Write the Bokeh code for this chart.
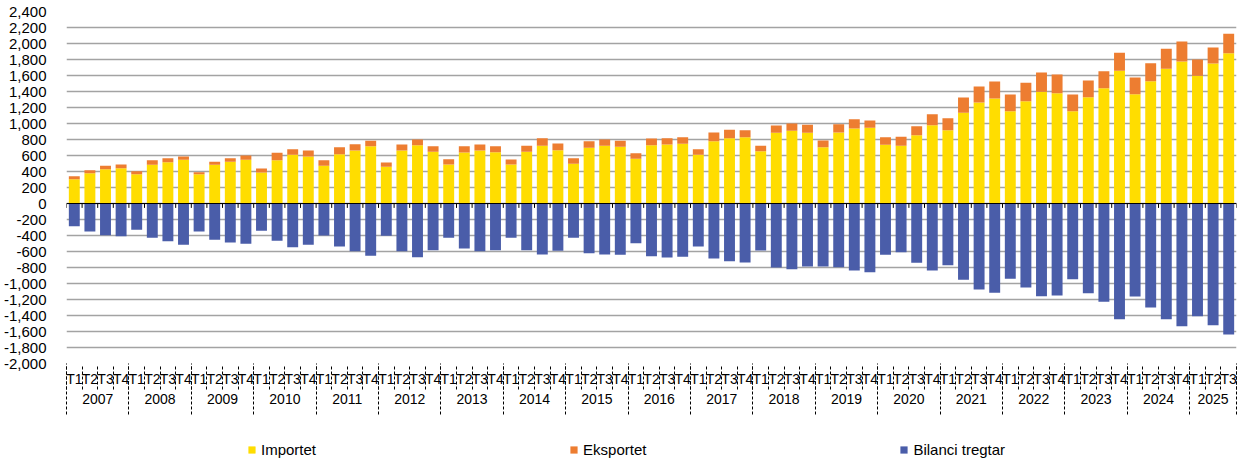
from bokeh.plotting import figure
from bokeh.layouts import column
from bokeh.models import (FixedTicker, LinearAxis, NumeralTickFormatter, Legend,
                          LegendItem, Span, Range1d, ColumnDataSource)
from bokeh.embed import file_html
from bokeh.resources import INLINE

years = ["2007", "2008", "2009", "2010", "2011", "2012", "2013", "2014", "2015",
         "2016", "2017", "2018", "2019", "2020", "2021", "2022", "2023", "2024", "2025"]
quarters = ["T1", "T2", "T3", "T4"]

importet = [304, 379, 429, 442, 367, 483, 517, 546, 367, 483, 521, 546,
            388, 542, 608, 588, 471, 617, 663, 717, 458, 663, 729, 646,
            488, 638, 663, 642, 488, 646, 721, 667, 496, 696, 721, 708,
            558, 729, 738, 746, 608, 779, 817, 829, 654, 883, 908, 883,
            704, 888, 938, 946, 733, 721, 854, 979, 917, 1133, 1263, 1313,
            1154, 1279, 1396, 1379, 1154, 1329, 1442, 1658, 1367, 1529, 1683, 1775,
            1596, 1750, 1879]
eksportet = [38, 38, 42, 46, 37, 59, 50, 42, 25, 38, 46, 54,
             50, 91, 71, 75, 71, 87, 79, 66, 55, 75, 71, 71,
             66, 79, 75, 75, 62, 75, 96, 83, 71, 83, 79, 75,
             71, 84, 79, 83, 71, 109, 104, 88, 67, 92, 92, 100,
             84, 104, 116, 92, 96, 112, 113, 138, 150, 192, 200, 212,
             209, 229, 242, 234, 209, 209, 212, 225, 208, 225, 250, 250,
             204, 200, 242]
bilanci = [-283, -350, -396, -408, -329, -429, -471, -517, -350, -454, -488, -504,
           -342, -467, -546, -517, -400, -538, -596, -654, -404, -598, -671, -583,
           -429, -563, -596, -583, -429, -583, -638, -592, -429, -621, -638, -642,
           -496, -658, -675, -667, -538, -688, -721, -738, -588, -800, -821, -788,
           -788, -796, -838, -858, -642, -608, -742, -838, -771, -954, -1075, -1117,
           -942, -1050, -1158, -1150, -946, -1121, -1229, -1446, -1163, -1300, -1446, -1533,
           -1408, -1521, -1638]
series_names = ["Importet", "Eksportet", "Bilanci tregtar"]

n = len(importet)
xs = list(range(n))
q_labels = [quarters[i % 4] for i in xs]
total = [a + b for a, b in zip(importet, eksportet)]

src = ColumnDataSource(dict(x=xs, imp=importet, tot=total, bal=bilanci,
                            zero=[0] * n))

FONT = "Liberation Sans"
YELLOW = "#FFDD00"
ORANGE = "#ED7D31"
BLUE = "#4A5DA9"

p = figure(width=1243, height=436, x_range=Range1d(-0.5, n - 0.5),
           y_range=Range1d(-2000, 2400), output_backend="svg",
           toolbar_location=None, x_axis_location=None,
           min_border_left=66, min_border_right=7, min_border_top=11,
           min_border_bottom=73)
p.outline_line_color = None
p.background_fill_color = "white"

p.vbar(x="x", bottom="zero", top="imp", width=0.7, source=src,
       fill_color=YELLOW, line_color=None)
p.vbar(x="x", bottom="imp", top="tot", width=0.7, source=src,
       fill_color=ORANGE, line_color=None)
p.vbar(x="x", bottom="bal", top="zero", width=0.7, source=src,
       fill_color=BLUE, line_color=None)

# zero line with small ticks at category boundaries
bounds = [i - 0.5 for i in range(n + 1)]
p.add_layout(Span(location=0, dimension="width", line_color="black", line_width=1))
p.segment(x0=bounds, x1=bounds, y0=[0] * len(bounds), y1=[-55] * len(bounds),
          line_color="black", line_width=1)

# y axis
yticks = list(range(-2000, 2401, 200))
yax = p.yaxis[0]
yax.ticker = FixedTicker(ticks=yticks)
yax.formatter = NumeralTickFormatter(format="0,0")
yax.axis_line_color = None
yax.major_tick_line_color = None
yax.minor_tick_line_color = None
yax.major_label_standoff = 14
yax.major_label_text_font = FONT
yax.major_label_text_font_size = "15px"
yax.major_label_text_color = "black"

p.xgrid.visible = False
p.ygrid.ticker = FixedTicker(ticks=yticks)
p.ygrid.grid_line_color = "#A3A3A3"
p.ygrid.grid_line_width = 1.5

# quarter labels axis
qaxis = LinearAxis(
    ticker=FixedTicker(ticks=xs),
    major_label_overrides={i: q_labels[i] for i in xs},
    major_tick_out=0, major_tick_in=0,
    minor_tick_out=0, minor_tick_in=0,
    axis_line_color=None, major_label_standoff=7,
    major_label_text_font=FONT, major_label_text_font_size="14px",
    major_label_text_color="black")
p.add_layout(qaxis, "below")

# year labels axis (its minor ticks reach up as quarter separators)
year_centers = []
year_bounds = [-0.5]
for k, y in enumerate(years):
    start = 4 * k
    end = min(4 * k + 3, n - 1)
    year_centers.append((start + end) / 2)
    year_bounds.append(end + 0.5)
yaxis2 = LinearAxis(
    ticker=FixedTicker(ticks=year_centers, minor_ticks=bounds),
    major_label_overrides={c: y for c, y in zip(year_centers, years)},
    major_tick_out=0, major_tick_in=0,
    minor_tick_out=0, minor_tick_in=23,
    minor_tick_line_color="black", minor_tick_line_dash="3 2",
    axis_line_color=None, major_label_standoff=4,
    major_label_text_font=FONT, major_label_text_font_size="14px",
    major_label_text_color="black")
p.add_layout(yaxis2, "below")

# year separators (long dashed lines)
sep_axis = LinearAxis(
    ticker=FixedTicker(ticks=year_bounds),
    major_label_overrides={b: "" for b in year_bounds},
    major_tick_out=8, major_tick_in=43,
    major_tick_line_color="black", major_tick_line_dash="3 2",
    minor_tick_out=0, minor_tick_in=0,
    axis_line_color=None, major_label_standoff=0,
    major_label_text_font=FONT, major_label_text_font_size="14px")
p.add_layout(sep_axis, "below")

# legend strip below the chart (zero-height bars act as legend swatches)
lg = figure(width=1243, height=23, x_range=Range1d(-0.5, n - 0.5),
            y_range=Range1d(0, 1),
            output_backend="svg", toolbar_location=None,
            x_axis_location=None, y_axis_location=None,
            min_border_left=0, min_border_right=0, min_border_top=0,
            min_border_bottom=0)
lg.outline_line_color = None
lg.grid.visible = False
swatches = []
for color in [YELLOW, ORANGE, BLUE]:
    swatches.append(lg.vbar(x="x", top="zero", bottom="zero", width=0.7,
                            source=src, fill_color=color, line_color=None))
legend = Legend(items=[LegendItem(label=nm, renderers=[r])
                       for nm, r in zip(series_names, swatches)],
                orientation="horizontal", spacing=253, glyph_width=9,
                glyph_height=9, label_standoff=5, padding=0, margin=0,
                border_line_color=None, background_fill_alpha=0,
                label_text_font=FONT, label_text_font_size="15px",
                label_text_color="black", location=(181, 1))
lg.add_layout(legend)

open("out.html", "w").write(file_html(column(p, lg, spacing=0), INLINE))
